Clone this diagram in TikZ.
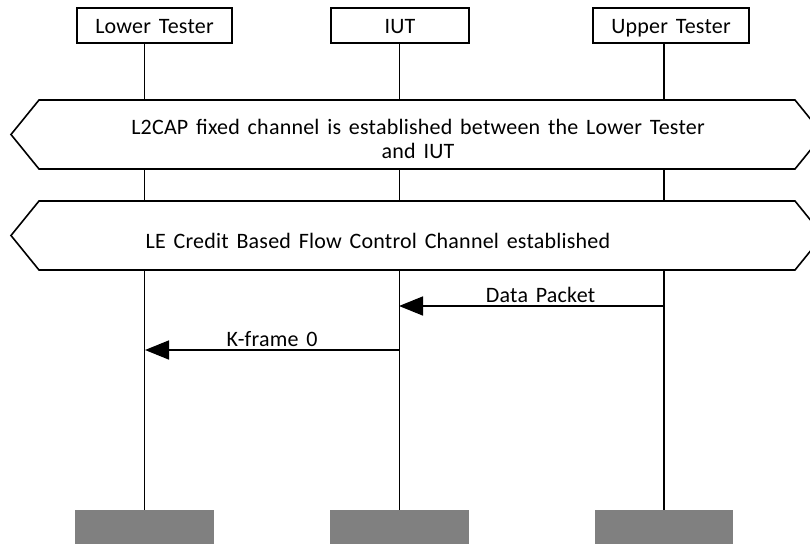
\documentclass[tikz,border=0pt]{standalone}
\usepackage{fontspec}
\setmainfont{Carlito}[WordSpace=1.5, LetterSpace=1]
\usetikzlibrary{arrows.meta}
\tikzset{
  headbox/.style={draw, line width=1.4pt, minimum width=155pt, minimum height=35pt, inner sep=0pt, text height=20pt, text depth=3pt, font=\fontsize{22}{24}\selectfont},
  endbox/.style={fill=black!50, minimum width=139pt, minimum height=36pt, inner sep=0pt},
  lifeline/.style={line width=1.6pt},
  banner/.style={draw, fill=white, line width=1.6pt},
  msg/.style={line width=1.6pt, -{Triangle[length=24pt,width=19pt]}},
  lbl/.style={font=\fontsize{22}{24.5}\selectfont}
}
\begin{document}
\begin{tikzpicture}[x=1pt, y=-1pt]
            \clip (0,0) rectangle (810,543);
            \fill[white] (0,0) rectangle (810,543);
            \node[headbox] (lt) at (154.5, 25.5) {Lower Tester};
            \node[headbox, minimum width=138pt] (iut) at (400, 25.5) {IUT};
            \node[headbox, minimum width=156pt] (ut) at (671, 25.5) {Upper Tester};
            \node[endbox] (lte) at (144.5, 528) {};
            \node[endbox] (iute) at (399.5, 528) {};
            \node[endbox, minimum width=138pt] (ute) at (664, 528) {};
            \draw[lifeline] (lt.south -| lte) -- (lte.north);
            \draw[lifeline] (iut.south -| iute) -- (iute.north);
            \draw[lifeline] (ut.south -| ute) -- (ute.north);
            % L2CAP fixed channel
            \draw[banner] (11,134.5) -- (39,100) -- (795,100) -- (823,134.5) -- (795,169) -- (39,169) -- cycle;
            \node[lbl, align=center] (fixed) at (418, 139) {L2CAP fixed channel is established between the Lower Tester\\and IUT};
            % LE credit based channel
            \draw[banner] (11,235.5) -- (39,201) -- (795,201) -- (823,235.5) -- (795,270) -- (39,270) -- cycle;
            \node[lbl] (credit) at (378, 241) {LE Credit Based Flow Control Channel established};
            \coordinate (dps) at (664, 306);
            \coordinate (dpe) at (399, 306);
            \coordinate (kfs) at (399, 350);
            \coordinate (kfe) at (145, 350);
            \draw[msg] (dps) -- node[lbl, above, xshift=9pt, yshift=-1pt] {Data Packet} (dpe);
            \draw[msg] (kfs) -- node[lbl, above, yshift=-1pt] {K-frame 0} (kfe);
            \end{tikzpicture}
\end{document}
